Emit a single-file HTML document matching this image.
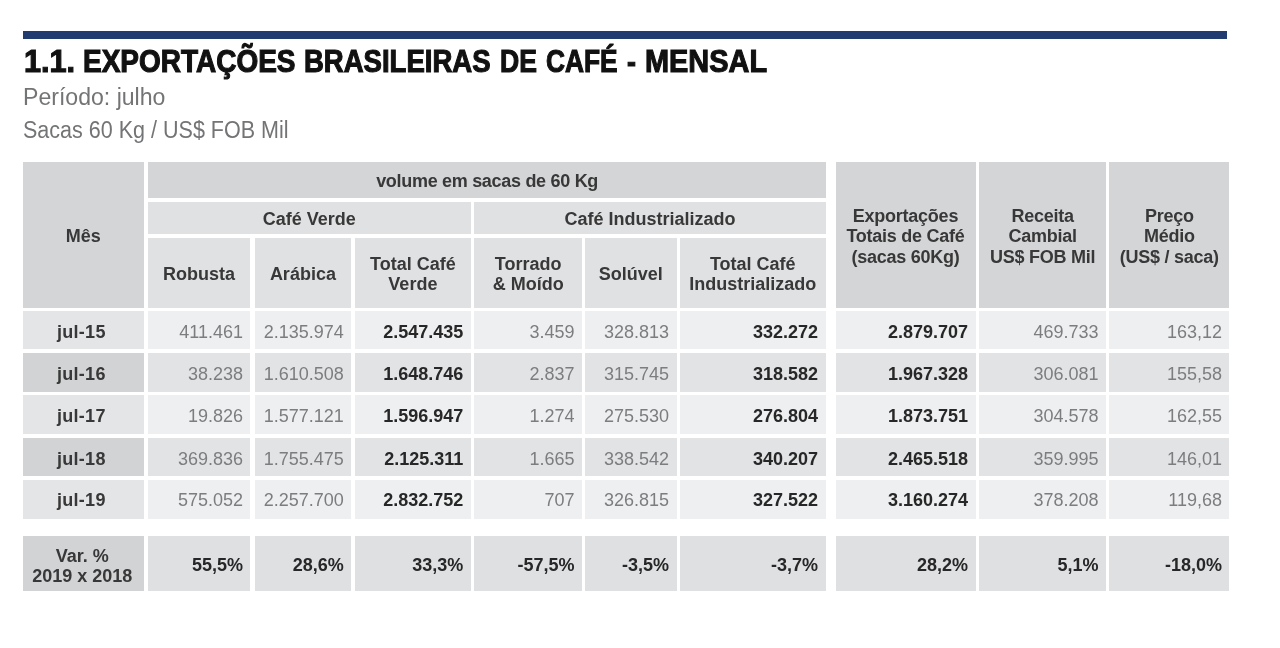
<!DOCTYPE html>
<html><head><meta charset="utf-8">
<style>
html,body{margin:0;padding:0;background:#fff;width:1280px;height:648px;overflow:hidden;position:relative}
body{font-family:"Liberation Sans",sans-serif}
#w{position:absolute;left:0;top:0;width:1280px;height:648px;filter:blur(0.45px)}
.bar{position:absolute;left:23.4px;top:31.4px;width:1203.9px;height:7.7px;background:#233c70}
.title{position:absolute;top:44.3px;font-size:31px;font-weight:bold;color:#111;white-space:nowrap;line-height:36px;transform-origin:0 0;-webkit-text-stroke:1.1px #111}
.sub{position:absolute;left:24px;font-size:23.5px;color:#737476;white-space:nowrap;line-height:26px;transform-origin:0 0}
.c{position:absolute;box-sizing:border-box;display:flex;align-items:center;text-align:center;white-space:nowrap;overflow:hidden}
.c span{position:relative}
.hb{font-weight:bold;font-size:18px;color:#383838;line-height:20.5px}
.hb span{top:1.5px}
.rh span{letter-spacing:-0.25px}
.h1 span{top:1.5px;letter-spacing:-0.3px;left:0.5px}
.mb{font-weight:bold;font-size:18px;color:#383838;line-height:20px}
.mb span{top:2px;left:-2px;letter-spacing:0.3px}
.vm{font-weight:bold;font-size:18px;color:#383838;line-height:20px}
.vm span{top:3.5px;left:-1px}
.nb{font-weight:bold;font-size:18px;color:#272727;padding-right:7.5px}
.nb span{top:2.5px}
.nl{font-size:18px;color:#7c7d7f;padding-right:7.5px}
.nl span{top:2.5px}
</style></head><body><div id="w">
<div class="bar"></div>
<div class="title" style="left:24.31px;transform:scaleX(0.9888)">1.1.</div><div class="title" style="left:82.89px;transform:scaleX(0.9026)">EXPORTAÇÕES</div><div class="title" style="left:303.93px;transform:scaleX(0.8875)">BRASILEIRAS</div><div class="title" style="left:499.54px;transform:scaleX(0.8573)">DE</div><div class="title" style="left:545.75px;transform:scaleX(0.8482)">CAFÉ</div><div class="title" style="left:626.53px;transform:scaleX(0.8667)">-</div><div class="title" style="left:644.53px;transform:scaleX(0.9326)">MENSAL</div>
<div class="sub" style="top:84px;left:23px;transform:scaleX(0.982)">Período: julho</div>
<div class="sub" style="top:117px;left:23px;transform:scaleX(0.916)">Sacas 60 Kg / US$ FOB Mil</div>
<div class="c hb" style="left:22.7px;top:162px;width:121.3px;height:145.6px;background:#d4d5d7;justify-content:center"><span style="margin-top:0px">Mês</span></div><div class="c hb h1" style="left:147.6px;top:162px;width:678.0px;height:36.2px;background:#d4d5d7;justify-content:center"><span style="margin-top:0px">volume em sacas de 60 Kg</span></div><div class="c hb" style="left:147.6px;top:202px;width:323.2px;height:32.0px;background:#e0e1e3;justify-content:center"><span style="margin-top:0px">Café Verde</span></div><div class="c hb" style="left:474.3px;top:202px;width:351.3px;height:32.0px;background:#e0e1e3;justify-content:center"><span style="margin-top:0px">Café Industrializado</span></div><div class="c hb" style="left:147.6px;top:238px;width:102.9px;height:69.6px;background:#e0e1e3;justify-content:center"><span style="margin-top:0px">Robusta</span></div><div class="c hb" style="left:254.5px;top:238px;width:96.8px;height:69.6px;background:#e0e1e3;justify-content:center"><span style="margin-top:0px">Arábica</span></div><div class="c hb" style="left:355px;top:238px;width:115.8px;height:69.6px;background:#e0e1e3;justify-content:center"><span style="margin-top:0px">Total Café<br>Verde</span></div><div class="c hb" style="left:474.3px;top:238px;width:107.7px;height:69.6px;background:#e0e1e3;justify-content:center"><span style="margin-top:0px">Torrado<br>&amp; Moído</span></div><div class="c hb" style="left:585px;top:238px;width:91.5px;height:69.6px;background:#e0e1e3;justify-content:center"><span style="margin-top:0px">Solúvel</span></div><div class="c hb" style="left:680px;top:238px;width:145.6px;height:69.6px;background:#e0e1e3;justify-content:center"><span style="margin-top:0px">Total Café<br>Industrializado</span></div><div class="c hb rh" style="left:835.5px;top:162px;width:140.0px;height:145.6px;background:#d4d5d7;justify-content:center"><span style="margin-top:0px">Exportações<br>Totais de Café<br>(sacas 60Kg)</span></div><div class="c hb rh" style="left:979.4px;top:162px;width:126.6px;height:145.6px;background:#d4d5d7;justify-content:center"><span style="margin-top:0px">Receita<br>Cambial<br>US$ FOB Mil</span></div><div class="c hb rh" style="left:1109.2px;top:162px;width:120.3px;height:145.6px;background:#d4d5d7;justify-content:center"><span style="margin-top:0px">Preço<br>Médio<br>(US$ / saca)</span></div><div class="c mb" style="left:22.7px;top:311px;width:121.3px;height:37.8px;background:#e4e5e7;justify-content:center"><span style="margin-top:0px">jul-15</span></div><div class="c nl" style="left:147.6px;top:311px;width:102.9px;height:37.8px;background:#eeeff0;justify-content:flex-end"><span style="margin-top:0px">411.461</span></div><div class="c nl" style="left:254.5px;top:311px;width:96.8px;height:37.8px;background:#eeeff0;justify-content:flex-end"><span style="margin-top:0px">2.135.974</span></div><div class="c nb" style="left:355px;top:311px;width:115.8px;height:37.8px;background:#eeeff0;justify-content:flex-end"><span style="margin-top:0px">2.547.435</span></div><div class="c nl" style="left:474.3px;top:311px;width:107.7px;height:37.8px;background:#eeeff0;justify-content:flex-end"><span style="margin-top:0px">3.459</span></div><div class="c nl" style="left:585px;top:311px;width:91.5px;height:37.8px;background:#eeeff0;justify-content:flex-end"><span style="margin-top:0px">328.813</span></div><div class="c nb" style="left:680px;top:311px;width:145.6px;height:37.8px;background:#eeeff0;justify-content:flex-end"><span style="margin-top:0px">332.272</span></div><div class="c nb" style="left:835.5px;top:311px;width:140.0px;height:37.8px;background:#eeeff0;justify-content:flex-end"><span style="margin-top:0px">2.879.707</span></div><div class="c nl" style="left:979.4px;top:311px;width:126.6px;height:37.8px;background:#eeeff0;justify-content:flex-end"><span style="margin-top:0px">469.733</span></div><div class="c nl" style="left:1109.2px;top:311px;width:120.3px;height:37.8px;background:#eeeff0;justify-content:flex-end"><span style="margin-top:0px">163,12</span></div><div class="c mb" style="left:22.7px;top:352.5px;width:121.3px;height:39.0px;background:#d2d3d5;justify-content:center"><span style="margin-top:0px">jul-16</span></div><div class="c nl" style="left:147.6px;top:352.5px;width:102.9px;height:39.0px;background:#e2e3e5;justify-content:flex-end"><span style="margin-top:0px">38.238</span></div><div class="c nl" style="left:254.5px;top:352.5px;width:96.8px;height:39.0px;background:#e2e3e5;justify-content:flex-end"><span style="margin-top:0px">1.610.508</span></div><div class="c nb" style="left:355px;top:352.5px;width:115.8px;height:39.0px;background:#e2e3e5;justify-content:flex-end"><span style="margin-top:0px">1.648.746</span></div><div class="c nl" style="left:474.3px;top:352.5px;width:107.7px;height:39.0px;background:#e2e3e5;justify-content:flex-end"><span style="margin-top:0px">2.837</span></div><div class="c nl" style="left:585px;top:352.5px;width:91.5px;height:39.0px;background:#e2e3e5;justify-content:flex-end"><span style="margin-top:0px">315.745</span></div><div class="c nb" style="left:680px;top:352.5px;width:145.6px;height:39.0px;background:#e2e3e5;justify-content:flex-end"><span style="margin-top:0px">318.582</span></div><div class="c nb" style="left:835.5px;top:352.5px;width:140.0px;height:39.0px;background:#e2e3e5;justify-content:flex-end"><span style="margin-top:0px">1.967.328</span></div><div class="c nl" style="left:979.4px;top:352.5px;width:126.6px;height:39.0px;background:#e2e3e5;justify-content:flex-end"><span style="margin-top:0px">306.081</span></div><div class="c nl" style="left:1109.2px;top:352.5px;width:120.3px;height:39.0px;background:#e2e3e5;justify-content:flex-end"><span style="margin-top:0px">155,58</span></div><div class="c mb" style="left:22.7px;top:394.8px;width:121.3px;height:39.4px;background:#e4e5e7;justify-content:center"><span style="margin-top:0px">jul-17</span></div><div class="c nl" style="left:147.6px;top:394.8px;width:102.9px;height:39.4px;background:#eeeff0;justify-content:flex-end"><span style="margin-top:0px">19.826</span></div><div class="c nl" style="left:254.5px;top:394.8px;width:96.8px;height:39.4px;background:#eeeff0;justify-content:flex-end"><span style="margin-top:0px">1.577.121</span></div><div class="c nb" style="left:355px;top:394.8px;width:115.8px;height:39.4px;background:#eeeff0;justify-content:flex-end"><span style="margin-top:0px">1.596.947</span></div><div class="c nl" style="left:474.3px;top:394.8px;width:107.7px;height:39.4px;background:#eeeff0;justify-content:flex-end"><span style="margin-top:0px">1.274</span></div><div class="c nl" style="left:585px;top:394.8px;width:91.5px;height:39.4px;background:#eeeff0;justify-content:flex-end"><span style="margin-top:0px">275.530</span></div><div class="c nb" style="left:680px;top:394.8px;width:145.6px;height:39.4px;background:#eeeff0;justify-content:flex-end"><span style="margin-top:0px">276.804</span></div><div class="c nb" style="left:835.5px;top:394.8px;width:140.0px;height:39.4px;background:#eeeff0;justify-content:flex-end"><span style="margin-top:0px">1.873.751</span></div><div class="c nl" style="left:979.4px;top:394.8px;width:126.6px;height:39.4px;background:#eeeff0;justify-content:flex-end"><span style="margin-top:0px">304.578</span></div><div class="c nl" style="left:1109.2px;top:394.8px;width:120.3px;height:39.4px;background:#eeeff0;justify-content:flex-end"><span style="margin-top:0px">162,55</span></div><div class="c mb" style="left:22.7px;top:437.7px;width:121.3px;height:38.6px;background:#d2d3d5;justify-content:center"><span style="margin-top:0px">jul-18</span></div><div class="c nl" style="left:147.6px;top:437.7px;width:102.9px;height:38.6px;background:#e2e3e5;justify-content:flex-end"><span style="margin-top:0px">369.836</span></div><div class="c nl" style="left:254.5px;top:437.7px;width:96.8px;height:38.6px;background:#e2e3e5;justify-content:flex-end"><span style="margin-top:0px">1.755.475</span></div><div class="c nb" style="left:355px;top:437.7px;width:115.8px;height:38.6px;background:#e2e3e5;justify-content:flex-end"><span style="margin-top:0px">2.125.311</span></div><div class="c nl" style="left:474.3px;top:437.7px;width:107.7px;height:38.6px;background:#e2e3e5;justify-content:flex-end"><span style="margin-top:0px">1.665</span></div><div class="c nl" style="left:585px;top:437.7px;width:91.5px;height:38.6px;background:#e2e3e5;justify-content:flex-end"><span style="margin-top:0px">338.542</span></div><div class="c nb" style="left:680px;top:437.7px;width:145.6px;height:38.6px;background:#e2e3e5;justify-content:flex-end"><span style="margin-top:0px">340.207</span></div><div class="c nb" style="left:835.5px;top:437.7px;width:140.0px;height:38.6px;background:#e2e3e5;justify-content:flex-end"><span style="margin-top:0px">2.465.518</span></div><div class="c nl" style="left:979.4px;top:437.7px;width:126.6px;height:38.6px;background:#e2e3e5;justify-content:flex-end"><span style="margin-top:0px">359.995</span></div><div class="c nl" style="left:1109.2px;top:437.7px;width:120.3px;height:38.6px;background:#e2e3e5;justify-content:flex-end"><span style="margin-top:0px">146,01</span></div><div class="c mb" style="left:22.7px;top:480px;width:121.3px;height:38.7px;background:#e4e5e7;justify-content:center"><span style="margin-top:-3.2px">jul-19</span></div><div class="c nl" style="left:147.6px;top:480px;width:102.9px;height:38.7px;background:#eeeff0;justify-content:flex-end"><span style="margin-top:-3.2px">575.052</span></div><div class="c nl" style="left:254.5px;top:480px;width:96.8px;height:38.7px;background:#eeeff0;justify-content:flex-end"><span style="margin-top:-3.2px">2.257.700</span></div><div class="c nb" style="left:355px;top:480px;width:115.8px;height:38.7px;background:#eeeff0;justify-content:flex-end"><span style="margin-top:-3.2px">2.832.752</span></div><div class="c nl" style="left:474.3px;top:480px;width:107.7px;height:38.7px;background:#eeeff0;justify-content:flex-end"><span style="margin-top:-3.2px">707</span></div><div class="c nl" style="left:585px;top:480px;width:91.5px;height:38.7px;background:#eeeff0;justify-content:flex-end"><span style="margin-top:-3.2px">326.815</span></div><div class="c nb" style="left:680px;top:480px;width:145.6px;height:38.7px;background:#eeeff0;justify-content:flex-end"><span style="margin-top:-3.2px">327.522</span></div><div class="c nb" style="left:835.5px;top:480px;width:140.0px;height:38.7px;background:#eeeff0;justify-content:flex-end"><span style="margin-top:-3.2px">3.160.274</span></div><div class="c nl" style="left:979.4px;top:480px;width:126.6px;height:38.7px;background:#eeeff0;justify-content:flex-end"><span style="margin-top:-3.2px">378.208</span></div><div class="c nl" style="left:1109.2px;top:480px;width:120.3px;height:38.7px;background:#eeeff0;justify-content:flex-end"><span style="margin-top:-3.2px">119,68</span></div><div class="c vm" style="left:22.7px;top:536.3px;width:121.3px;height:54.7px;background:#d2d3d5;justify-content:center"><span style="margin-top:-1.4px">Var. %<br>2019 x 2018</span></div><div class="c nb" style="left:147.6px;top:536.3px;width:102.9px;height:54.7px;background:#dfe0e2;justify-content:flex-end"><span style="margin-top:-1.4px">55,5%</span></div><div class="c nb" style="left:254.5px;top:536.3px;width:96.8px;height:54.7px;background:#dfe0e2;justify-content:flex-end"><span style="margin-top:-1.4px">28,6%</span></div><div class="c nb" style="left:355px;top:536.3px;width:115.8px;height:54.7px;background:#dfe0e2;justify-content:flex-end"><span style="margin-top:-1.4px">33,3%</span></div><div class="c nb" style="left:474.3px;top:536.3px;width:107.7px;height:54.7px;background:#dfe0e2;justify-content:flex-end"><span style="margin-top:-1.4px">-57,5%</span></div><div class="c nb" style="left:585px;top:536.3px;width:91.5px;height:54.7px;background:#dfe0e2;justify-content:flex-end"><span style="margin-top:-1.4px">-3,5%</span></div><div class="c nb" style="left:680px;top:536.3px;width:145.6px;height:54.7px;background:#dfe0e2;justify-content:flex-end"><span style="margin-top:-1.4px">-3,7%</span></div><div class="c nb" style="left:835.5px;top:536.3px;width:140.0px;height:54.7px;background:#dfe0e2;justify-content:flex-end"><span style="margin-top:-1.4px">28,2%</span></div><div class="c nb" style="left:979.4px;top:536.3px;width:126.6px;height:54.7px;background:#dfe0e2;justify-content:flex-end"><span style="margin-top:-1.4px">5,1%</span></div><div class="c nb" style="left:1109.2px;top:536.3px;width:120.3px;height:54.7px;background:#dfe0e2;justify-content:flex-end"><span style="margin-top:-1.4px">-18,0%</span></div>
</div></body></html>
